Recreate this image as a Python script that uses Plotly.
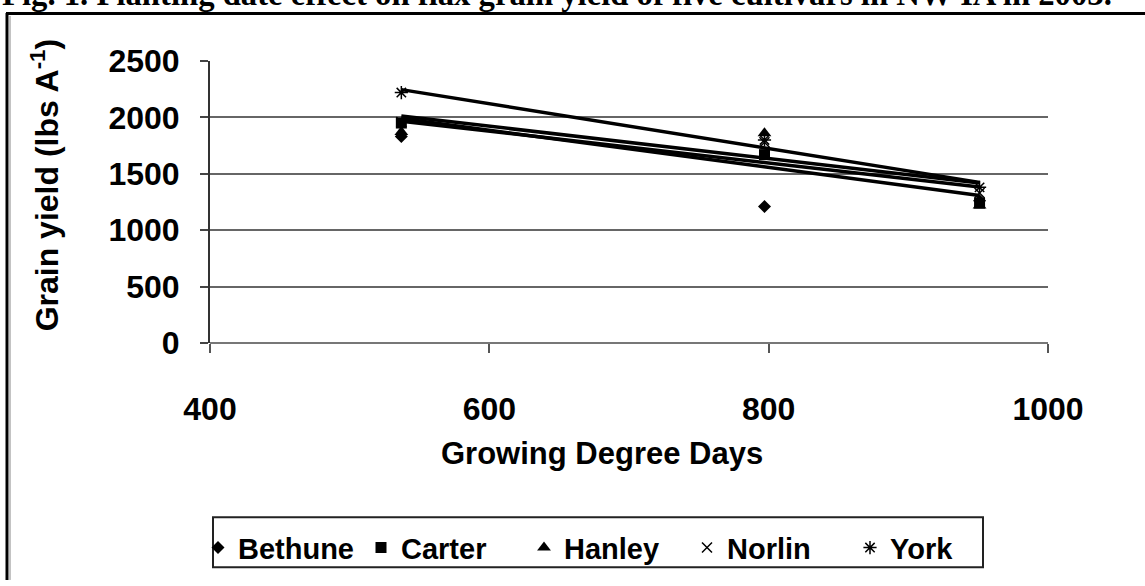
import numpy as np
import plotly.graph_objects as go

# growing degree days for the three planting dates
gdd = [537, 797, 951]

cultivars = ['Bethune', 'Carter', 'Hanley', 'Norlin', 'York']
bethune = [1830, 1210, 1260]
carter = [1950, 1670, 1240]
hanley = [1870, 1860, 1220]
norlin = [1960, 1780, 1330]
york = [2220, 1800, 1380]
yields = [bethune, carter, hanley, norlin, york]

symbols = ['diamond', 'square', 'triangle-up', 'x-thin-open', 'asterisk-open']
sizes = [10, 11, 12, 10, 11]
trend = [False, True, True, True, True]  # no visible trendline for Bethune

W, H = 1145, 586
L, R, T, B = 210, 1048, 61, 349


def px(x):
    return (x - L) / (R - L)


def py(y):
    return (B - y) / (B - T)


sans = "Liberation Sans, Arial, sans-serif"

fig = go.Figure()
for name, ys, sym, sz in zip(cultivars, yields, symbols, sizes):
    fig.add_trace(go.Scatter(
        x=gdd, y=ys, mode='markers', name=name,
        marker=dict(symbol=sym, size=sz, color='black',
                    line=dict(color='black', width=1.5 if 'open' in sym else 0)),
    ))

for ys, on in zip(yields, trend):
    if not on:
        continue
    k, b = np.polyfit(gdd, ys, 1)
    xs = [gdd[0], gdd[-1]]
    fig.add_trace(go.Scatter(
        x=xs, y=[k * v + b for v in xs], mode='lines', showlegend=False,
        line=dict(color='black', width=3.5),
    ))

fig.update_layout(
    width=W, height=H,
    margin=dict(l=L, r=W - R, t=T, b=H - B),
    plot_bgcolor='white', paper_bgcolor='white',
    font=dict(family=sans, color='black'),
    showlegend=True,
    legend=dict(
        orientation='h', x=px(198), y=py(532), xanchor='left', yanchor='top',
        borderwidth=0, bgcolor='rgba(0,0,0,0)',
        font=dict(size=29, family=sans, weight='bold'),
        itemwidth=30, entrywidth=118, entrywidthmode='pixels',
    ),
    xaxis=dict(
        range=[400, 1000], tickvals=[400, 600, 800, 1000],
        showgrid=False, zeroline=False, showline=False,
        ticks='outside', ticklen=9, tickcolor='#555', tickwidth=2,
        ticklabelstandoff=29,
        tickfont=dict(size=32, family=sans, weight='bold'),
    ),
    yaxis=dict(
        range=[0, 2500], tickvals=[0, 500, 1000, 1500, 2000, 2500],
        showgrid=True, gridcolor='#666', gridwidth=1.5,
        zeroline=True, zerolinecolor='#777', zerolinewidth=2,
        showline=True, linecolor='#333', linewidth=2,
        ticks='outside', ticklen=8, tickcolor='#444', tickwidth=1.5,
        ticklabelstandoff=14,
        tickfont=dict(size=32, family=sans, weight='bold'),
    ),
)

# figure caption, cut off at the top edge as in the source page
fig.add_annotation(
    text='Fig. 1. Planting date effect on flax grain yield of five cultivars in NW IA in 2003.',
    xref='paper', yref='paper', x=px(0), y=py(-7), xanchor='left', yanchor='middle',
    showarrow=False, font=dict(family='Liberation Serif, Times New Roman, serif', size=32.7, weight='bold'),
)
fig.add_annotation(
    text='Growing Degree Days', xref='paper', yref='paper', x=px(602), y=py(462),
    xanchor='center', yanchor='middle', showarrow=False,
    font=dict(size=31, family=sans, weight='bold'),
)
fig.add_annotation(
    text='Grain yield (lbs A<sup>-1</sup>)', xref='paper', yref='paper', x=px(45), y=py(188),
    xanchor='center', yanchor='middle', textangle=-90, showarrow=False,
    font=dict(size=32, family=sans, weight='bold'),
)

# legend box
fig.add_shape(type='rect', xref='paper', yref='paper', x0=px(213), x1=px(983), y0=py(527), y1=py(578),
              line=dict(color='#222', width=2), layer='below')

# double frame around the figure
fig.add_shape(type='line', xref='paper', yref='paper', x0=px(7), x1=px(7), y0=py(12), y1=py(H + 5),
              line=dict(color='black', width=3))
fig.add_shape(type='line', xref='paper', yref='paper', x0=px(10), x1=px(10), y0=py(15), y1=py(H + 5),
              line=dict(color='#888', width=1))
fig.add_shape(type='line', xref='paper', yref='paper', x0=px(6), x1=px(W + 5), y0=py(12.5), y1=py(12.5),
              line=dict(color='black', width=3))

# drop the browser's default 8px body margin so the figure sits at the page corner
fig.write_html("out.html", config={'displayModeBar': False},
               post_script="document.body.style.margin='0';")
